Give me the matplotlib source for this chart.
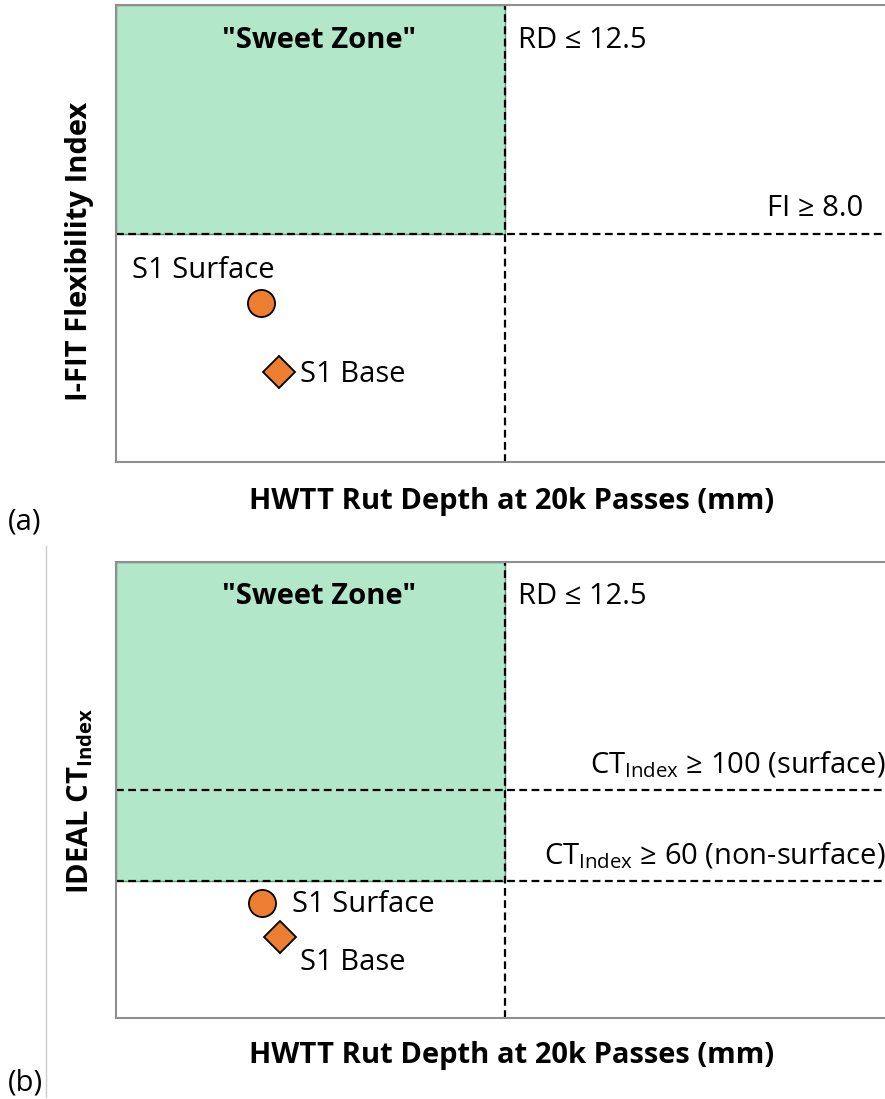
import matplotlib
matplotlib.use("Agg")
import matplotlib.pyplot as plt
from matplotlib.lines import Line2D

plt.rcParams['font.family'] = ['Open Sans', 'DejaVu Sans']
plt.rcParams['mathtext.fontset'] = 'custom'
plt.rcParams['mathtext.rm'] = 'Open Sans'

# ---- data ----
rd_limit = 12.5
fi_limit = 8.0
ct_limit_surface = 100
ct_limit_base = 60
x_max = 24.7
fi_max = 16.0
ct_max = 200.0

labels = ["S1 Surface", "S1 Base"]
rut_a = [4.66, 5.24]
fi_vals = [5.57, 3.15]
rut_b = [4.69, 5.27]
ct_vals = [50.4, 35.5]
markers = ["o", "D"]

W, H = 885, 1099
fig = plt.figure(figsize=(W / 100, H / 100), dpi=100)

FS = 21
FSB = 21

def fx(px):
    return px / W

def fy(py):
    return 1 - py / H

green = "#B3E7CA"
orange = "#ED7D31"
frame = "#8f8f8f"

def make_axes(top, bottom):
    ax = fig.add_axes([fx(116), fy(bottom), 1 - fx(116), (bottom - top) / H])
    ax.set_xticks([])
    ax.set_yticks([])
    for s in ["left", "bottom", "top"]:
        ax.spines[s].set_color(frame)
        ax.spines[s].set_linewidth(1.5)
    ax.spines["right"].set_visible(False)
    return ax

dash = dict(color="black", lw=1.6, ls=(0, (3.5, 2)))

def xb(px):
    return (px - 116) / 769 * x_max

# ---- panel (a) ----
ax1 = make_axes(5, 462)
ax1.set_xlim(0, x_max)
ax1.set_ylim(0, fi_max)
ax1.fill_between([0, rd_limit], fi_limit, fi_max, color=green, edgecolor="#5a9a70", lw=1.0, zorder=0)
ax1.axvline(rd_limit, **dash)
ax1.axhline(fi_limit, **dash)
for x, y, m in zip(rut_a, fi_vals, markers):
    ax1.plot(x, y, marker=m, ms=19.5 if m == "o" else 16, mfc=orange, mec="black", mew=1.3, ls="none")

def ya(py):
    return fi_max * (462 - py) / 457

ax1.text(xb(319), ya(41), '"Sweet Zone"', ha="center", va="center", fontsize=FSB, fontweight="bold")
ax1.text(xb(518), ya(41), "RD ≤ 12.5", ha="left", va="center", fontsize=FS)
ax1.text(xb(863), ya(209), "FI ≥ 8.0", ha="right", va="center", fontsize=FS)
ax1.text(xb(132), ya(271), labels[0], ha="left", va="center", fontsize=FS)
ax1.text(xb(300), ya(375), labels[1], ha="left", va="center", fontsize=FS)

fig.text(fx(512), fy(502), "HWTT Rut Depth at 20k Passes (mm)", ha="center", va="center",
         fontsize=FSB, fontweight="bold")
fig.text(fx(80), fy(251), "I-FIT Flexibility Index", ha="center", va="center", rotation=90,
         fontsize=FSB, fontweight="bold")
fig.text(fx(8), fy(522), "(a)", ha="left", va="center", fontsize=FS)

# ---- panel (b) ----
ax2 = make_axes(562, 1018)
ax2.set_xlim(0, x_max)
ax2.set_ylim(0, ct_max)
ax2.fill_between([0, rd_limit], ct_limit_base, ct_max, color=green, edgecolor="#5a9a70", lw=1.0, zorder=0)
ax2.axvline(rd_limit, **dash)
ax2.axhline(ct_limit_surface, **dash)
ax2.axhline(ct_limit_base, **dash)
for x, y, m in zip(rut_b, ct_vals, markers):
    ax2.plot(x, y, marker=m, ms=19.5 if m == "o" else 16, mfc=orange, mec="black", mew=1.3, ls="none")

def yb(py):
    return ct_max * (1018 - py) / 456

ax2.text(xb(319), yb(596), '"Sweet Zone"', ha="center", va="center", fontsize=FSB, fontweight="bold")
ax2.text(xb(518), yb(596), "RD ≤ 12.5", ha="left", va="center", fontsize=FS)
ax2.text(xb(886), yb(765), r"CT$_{\mathregular{Index}}$ ≥ 100 (surface)", ha="right", va="center", fontsize=FS)
ax2.text(xb(886), yb(856), r"CT$_{\mathregular{Index}}$ ≥ 60 (non-surface)", ha="right", va="center", fontsize=FS)
ax2.text(xb(292), yb(905), labels[0], ha="left", va="center", fontsize=FS)
ax2.text(xb(300), yb(963), labels[1], ha="left", va="center", fontsize=FS)

fig.text(fx(512), fy(1056), "HWTT Rut Depth at 20k Passes (mm)", ha="center", va="center",
         fontsize=FSB, fontweight="bold")
fig.text(fx(80), fy(801), r"IDEAL CT$_{\mathregular{Index}}$", ha="center", va="center", rotation=90,
         fontsize=FSB, fontweight="bold")
fig.text(fx(8), fy(1083), "(b)", ha="left", va="center", fontsize=FS)

fig.add_artist(Line2D([fx(46), fx(46)], [fy(546), fy(1097)], color="#cccccc", lw=1.0))

fig.savefig("out.png", dpi=100)
